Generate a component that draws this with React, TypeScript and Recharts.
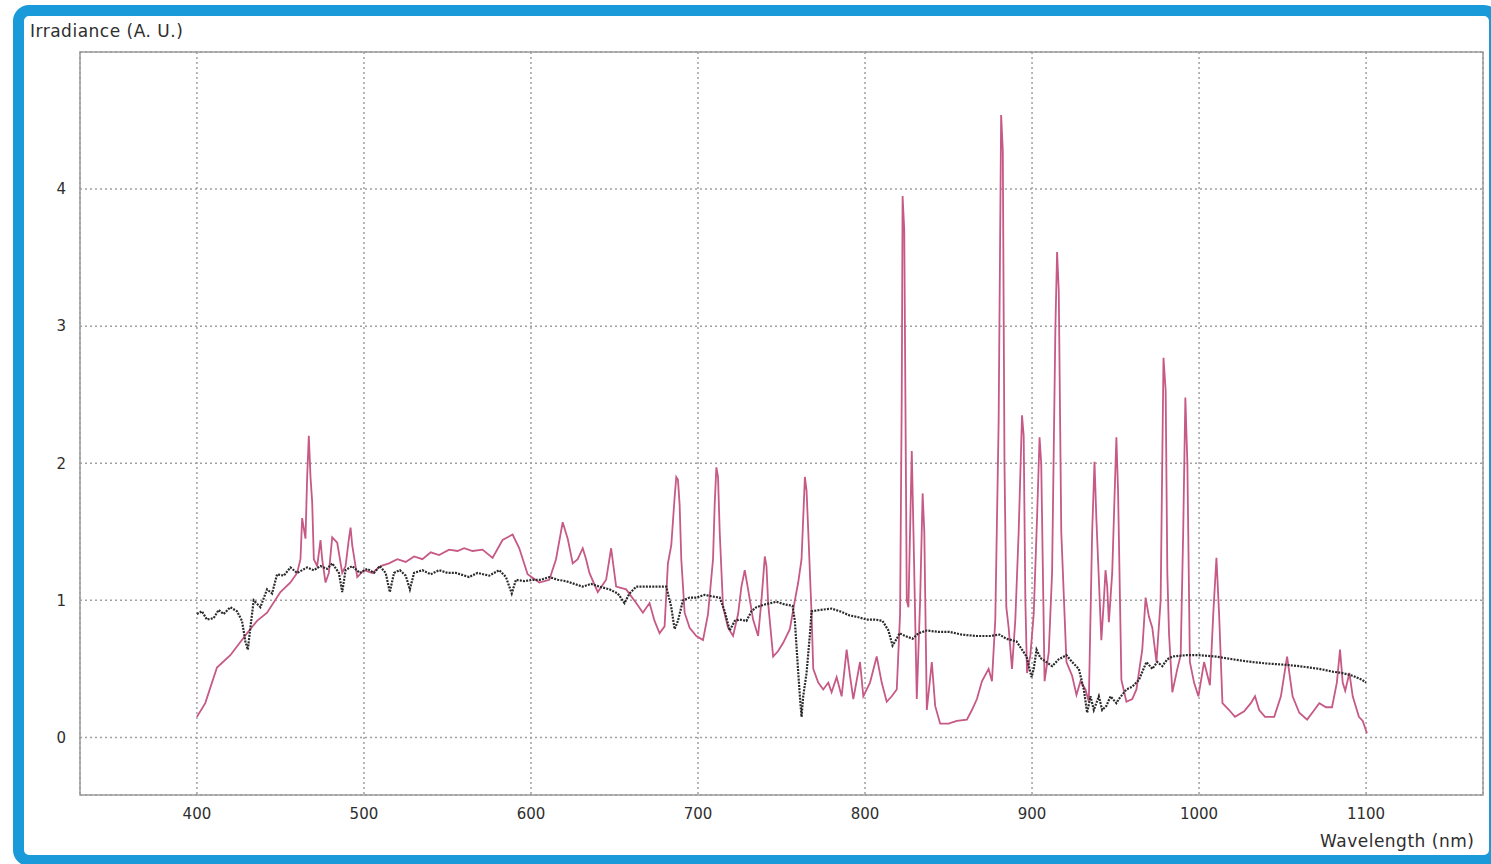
import { LineChart, Line, XAxis, YAxis, CartesianGrid, ReferenceArea } from "recharts";

// measured lamp spectrum (pink)
const lampNm = [
  400, 405, 412, 420, 430, 436, 442, 450, 456, 460, 462, 463, 465, 466, 467, 468, 469, 470, 472, 474,
  475, 477, 479, 481, 484, 487, 489, 491, 492, 493, 496, 500, 505, 510, 515, 520, 525, 530, 535, 540,
  545, 551, 556, 560, 565, 571, 577, 583, 586, 589, 593, 598, 605, 611, 615, 619, 622, 625, 628, 631,
  633, 635, 640, 645, 648, 651, 657, 663, 667, 671, 674, 677, 680, 682, 684, 686, 687, 688, 689, 690,
  692, 695, 699, 703, 706, 709, 710, 711, 712, 713, 715, 718, 721, 724, 726, 728, 730, 733, 736, 738,
  740, 741, 742, 745, 748, 751, 755, 758, 760, 762, 764, 765, 766, 768, 769, 772, 775, 778, 780, 783,
  786, 789, 791, 793, 797, 799, 803, 807, 810, 813, 816, 819, 821, 822, 822.5, 823.5, 825, 826, 828, 829,
  831, 833, 834.5, 835.5, 837, 840, 842, 845, 850, 855, 861, 864, 867, 870, 874, 876, 878, 880, 881.5, 882.5,
  883.5, 884.6, 886, 888, 890, 892, 894, 895, 896, 897, 899, 901, 903, 904.5, 905.5, 907.5, 910, 912, 914, 915,
  916, 917.5, 920.6, 924, 926.6, 929, 932, 934, 936, 937.4, 938.5, 941.5, 943, 944, 945, 946, 948, 950.5, 951.5, 953.5,
  956.5, 960, 962.5, 966, 968, 970, 972, 974.5, 977, 978.7, 980, 981, 982, 984, 987, 989, 990.5, 991.8, 993, 994.5,
  997, 999.6, 1003, 1006.5, 1008.5, 1010.4, 1012, 1014, 1018, 1021.5, 1027, 1031, 1033.5, 1036, 1039.5, 1045, 1049, 1052.7, 1056, 1060,
  1064.7, 1069, 1072, 1076, 1079.6, 1082.5, 1084.4, 1086, 1087.5, 1090, 1092, 1095.7, 1098, 1100.5,
];
const lampIrr = [
  0.15, 0.25, 0.51, 0.6, 0.76, 0.85, 0.91, 1.06, 1.13, 1.2, 1.3, 1.6, 1.45, 1.9, 2.2, 1.9, 1.72, 1.3, 1.25, 1.44,
  1.3, 1.13, 1.2, 1.46, 1.42, 1.2, 1.25, 1.45, 1.53, 1.4, 1.17, 1.22, 1.2, 1.25, 1.27, 1.3, 1.28, 1.32, 1.3, 1.35,
  1.33, 1.37, 1.36, 1.38, 1.36, 1.37, 1.31, 1.44, 1.46, 1.48, 1.38, 1.19, 1.13, 1.15, 1.3, 1.57, 1.45, 1.27, 1.3, 1.38,
  1.3, 1.2, 1.06, 1.15, 1.38, 1.1, 1.08, 0.98, 0.91, 0.98, 0.85, 0.76, 0.81, 1.27, 1.4, 1.75, 1.9, 1.88, 1.7, 1.3,
  0.91, 0.8, 0.74, 0.71, 0.9, 1.3, 1.7, 1.97, 1.9, 1.5, 0.95, 0.8, 0.74, 0.9, 1.1, 1.22, 1.08, 0.86, 0.74, 1.0,
  1.32, 1.25, 0.98, 0.59, 0.63, 0.69, 0.79, 1.0, 1.13, 1.3, 1.9, 1.8, 1.51, 0.9, 0.5, 0.4, 0.35, 0.4, 0.33, 0.44,
  0.3, 0.64, 0.45, 0.28, 0.55, 0.3, 0.4, 0.59, 0.4, 0.26, 0.3, 0.35, 0.9, 2.5, 3.95, 3.7, 1.0, 0.95, 2.09, 1.5,
  0.28, 1.0, 1.78, 1.5, 0.2, 0.55, 0.23, 0.1, 0.1, 0.12, 0.13, 0.2, 0.28, 0.41, 0.5, 0.41, 0.86, 2.3, 4.54, 4.28,
  2.0, 0.95, 0.8, 0.5, 0.86, 1.5, 2.35, 2.2, 1.0, 0.47, 0.6, 0.9, 1.6, 2.19, 2.0, 0.41, 0.62, 1.2, 3.0, 3.54,
  3.26, 1.5, 0.55, 0.45, 0.31, 0.41, 0.35, 0.26, 1.5, 2.01, 1.6, 0.71, 1.0, 1.22, 1.1, 0.84, 1.2, 2.19, 1.8, 0.42,
  0.26, 0.28, 0.35, 0.64, 1.02, 0.88, 0.8, 0.55, 1.0, 2.77, 2.53, 1.2, 0.76, 0.33, 0.5, 0.6, 1.5, 2.48, 2.0, 0.55,
  0.4, 0.3, 0.55, 0.38, 0.9, 1.31, 0.9, 0.25, 0.2, 0.15, 0.19, 0.25, 0.3, 0.2, 0.15, 0.15, 0.3, 0.59, 0.3, 0.18,
  0.13, 0.2, 0.25, 0.22, 0.22, 0.4, 0.64, 0.4, 0.34, 0.47, 0.3, 0.15, 0.12, 0.03,
];

// reference solar spectrum (black dotted)
const sunNm = [
  400, 403, 406, 410, 413, 416, 420, 424, 427, 429, 430.5, 432, 434, 438, 442, 445, 448, 452, 456, 460,
  466, 470, 474, 478, 481, 485, 487, 489, 493, 497.5, 502, 506, 509.5, 513, 515.5, 518, 521.5, 525, 527.5, 530,
  535, 540, 545, 550, 555, 563, 568, 575, 581, 585, 588.5, 591, 596, 601, 606, 611, 616, 621, 626, 631,
  636, 641, 647, 652, 656, 659, 663, 668, 674, 681, 684, 686, 688, 691, 695, 699, 704, 708, 713, 716,
  719, 722, 725, 729, 732, 735, 740, 747, 752, 756.6, 758, 759.6, 761, 762, 763, 765, 767, 768, 773, 780,
  785, 790.7, 795, 801, 806, 810.5, 814, 816.5, 819, 820.7, 824, 828.5, 832, 837, 844, 850.6, 858, 866.7, 875, 880.5,
  884.6, 890.7, 894, 896.7, 899.7, 901, 902.7, 905, 908.6, 912, 916, 920.6, 924, 928, 931, 933, 935, 937, 940, 942,
  944.5, 947, 950.5, 952, 956.5, 960, 964, 968.5, 972, 975, 978, 981, 984, 992, 1000, 1010, 1020, 1031.7, 1040, 1051.5,
  1060, 1072, 1080, 1085.6, 1092, 1097.7, 1100,
];
const sunIrr = [
  0.9, 0.92, 0.86, 0.87, 0.93, 0.9, 0.95, 0.92, 0.85, 0.7, 0.64, 0.8, 1.0, 0.95, 1.08, 1.05, 1.19, 1.18, 1.24, 1.2,
  1.24, 1.22, 1.25, 1.23, 1.27, 1.2, 1.06, 1.22, 1.25, 1.2, 1.23, 1.2, 1.25, 1.2, 1.06, 1.2, 1.22, 1.18, 1.08, 1.2,
  1.22, 1.19, 1.22, 1.2, 1.2, 1.17, 1.2, 1.18, 1.22, 1.17, 1.05, 1.15, 1.14, 1.15, 1.15, 1.17, 1.15, 1.14, 1.12, 1.1,
  1.12, 1.1, 1.08, 1.05, 0.98, 1.05, 1.1, 1.1, 1.1, 1.1, 0.95, 0.79, 0.85, 1.0, 1.02, 1.02, 1.04, 1.03, 1.02, 0.92,
  0.78, 0.85, 0.86, 0.85, 0.92, 0.95, 0.97, 0.99, 0.97, 0.96, 0.85, 0.55, 0.3, 0.15, 0.3, 0.47, 0.75, 0.92, 0.93, 0.94,
  0.92, 0.89, 0.88, 0.86, 0.86, 0.85, 0.78, 0.67, 0.72, 0.76, 0.74, 0.72, 0.76, 0.78, 0.77, 0.77, 0.75, 0.74, 0.74, 0.75,
  0.72, 0.7, 0.64, 0.59, 0.44, 0.5, 0.64, 0.58, 0.55, 0.52, 0.57, 0.6, 0.55, 0.5, 0.35, 0.18, 0.3, 0.2, 0.3, 0.2,
  0.23, 0.3, 0.25, 0.28, 0.35, 0.37, 0.42, 0.55, 0.5, 0.55, 0.52, 0.57, 0.59, 0.6, 0.6, 0.59, 0.57, 0.55, 0.54, 0.53,
  0.52, 0.5, 0.48, 0.47, 0.45, 0.42, 0.4,
];

const xTicks = [400, 500, 600, 700, 800, 900, 1000, 1100];
const yTicks = [0, 1, 2, 3, 4];

const lampData = lampNm.map((nm, i) => ({ nm, v: lampIrr[i] }));
const sunData = sunNm.map((nm, i) => ({ nm, v: sunIrr[i] }));

const font = "'DejaVu Sans', Verdana, sans-serif";

export default function App() {
  return (
    <div style={{ position: "absolute", left: 0, top: 0, width: 1491, height: 864, overflow: "hidden", background: "#fff" }}>
      <div
        style={{
          position: "absolute",
          left: 13,
          top: 5,
          width: 1465,
          height: 839,
          border: "11px solid #1a9ad8",
          borderRadius: 16,
          background: "#fff",
        }}
      />
      <LineChart
        width={1491}
        height={864}
        margin={{ top: 52, right: 8, bottom: 39, left: 30 }}
        style={{ position: "absolute", left: 0, top: 0 }}
      >
        <CartesianGrid stroke="#a0a0a0" strokeDasharray="2 3" strokeWidth={1.5} />
        <XAxis
          dataKey="nm"
          type="number"
          domain={[330, 1170]}
          ticks={xTicks}
          allowDataOverflow
          axisLine={false}
          tickLine={false}
          tickMargin={7}
          height={30}
          tick={{ fontSize: 15, fill: "#2e2e2e", fontFamily: font }}
        />
        <YAxis
          type="number"
          domain={[-0.42, 5]}
          ticks={yTicks}
          allowDataOverflow
          axisLine={false}
          tickLine={false}
          width={50}
          tickMargin={8}
          tick={{ fontSize: 15, fill: "#2e2e2e", fontFamily: font }}
        />
        <ReferenceArea x1={330} x2={1170} y1={-0.42} y2={5} fill="none" stroke="#9a9a9a" strokeWidth={1.5} />
        <Line
          data={lampData}
          dataKey="v"
          type="linear"
          stroke="#c65985"
          strokeWidth={1.8}
          dot={false}
          isAnimationActive={false}
        />
        <Line
          data={sunData}
          dataKey="v"
          type="linear"
          stroke="#2b2b2b"
          strokeWidth={2.2}
          strokeDasharray="2 1.2"
          dot={false}
          isAnimationActive={false}
        />
      </LineChart>
      <div style={{ position: "absolute", left: 30, top: 21, fontFamily: font, fontSize: 17, letterSpacing: 0.5, color: "#2e2e2e" }}>
        Irradiance (A. U.)
      </div>
      <div style={{ position: "absolute", left: 1320, top: 831, fontFamily: font, fontSize: 17, letterSpacing: 0.5, color: "#2e2e2e" }}>
        Wavelength (nm)
      </div>
    </div>
  );
}
